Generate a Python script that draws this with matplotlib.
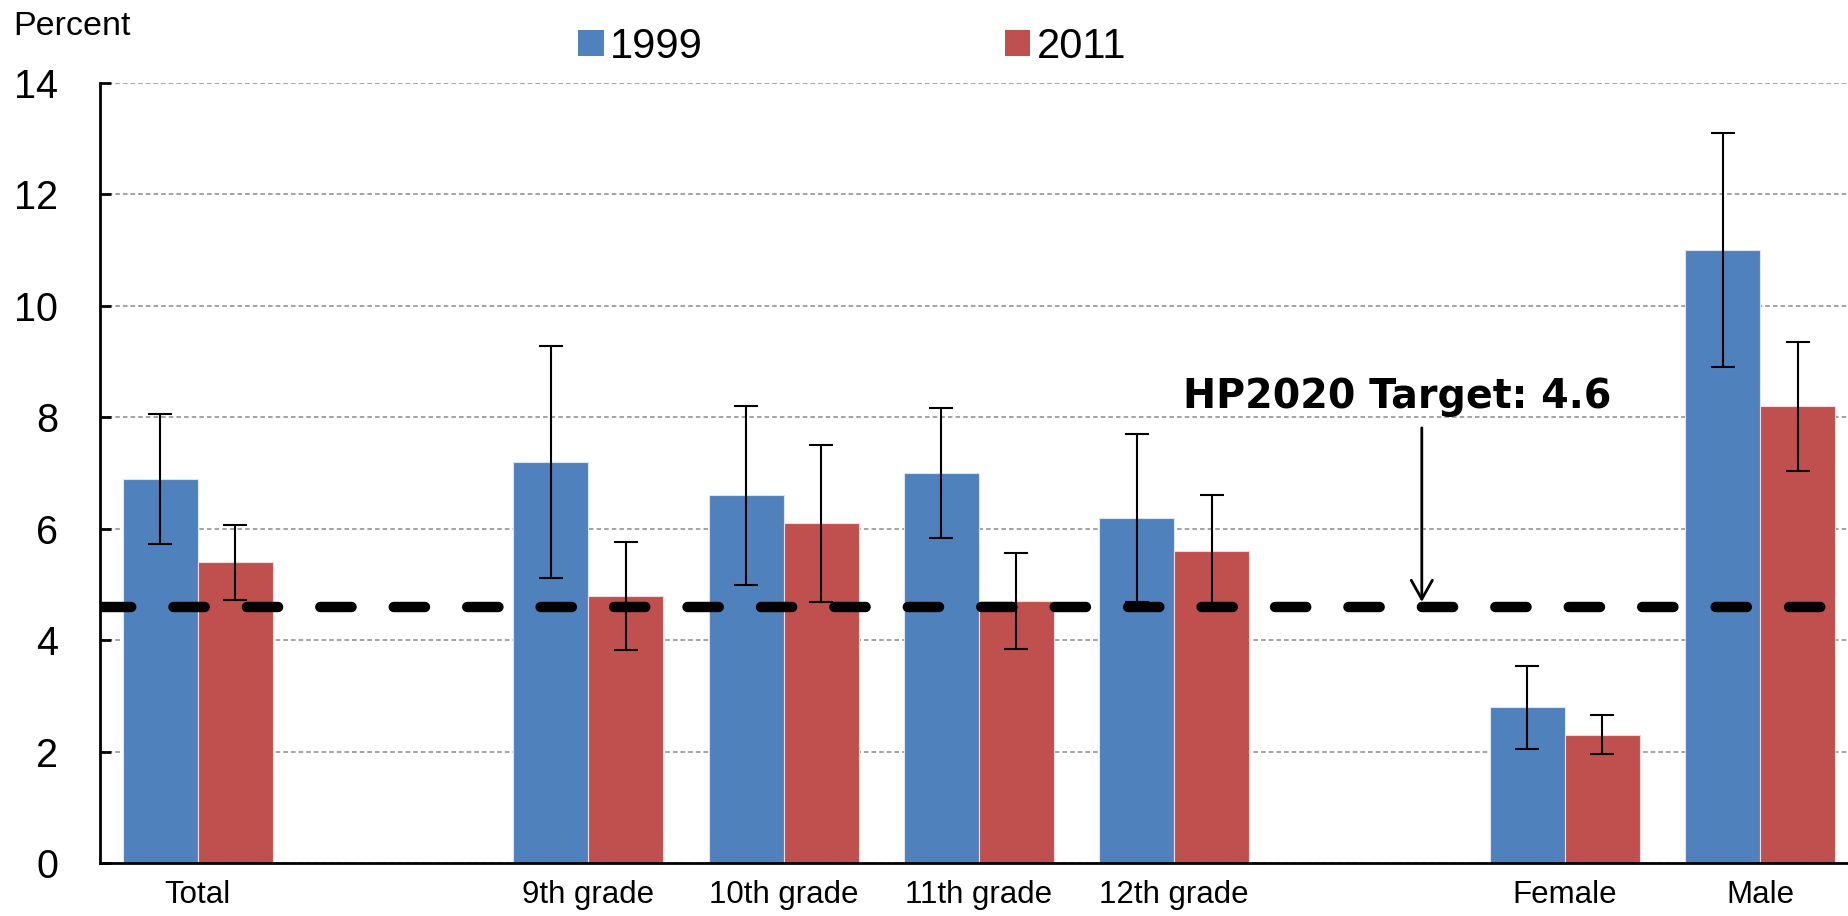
import matplotlib
matplotlib.use("Agg")
import matplotlib.pyplot as plt
import numpy as np

# ---- data ----
categories = ["Total", "", "9th grade", "10th grade", "11th grade", "12th grade", "", "Female", "Male"]
series_names = ["1999", "2011"]
vals_1999 = [6.9, np.nan, 7.2, 6.6, 7.0, 6.2, np.nan, 2.8, 11.0]
lo_1999 = [5.73, np.nan, 5.12, 4.99, 5.84, 4.69, np.nan, 2.05, 8.90]
hi_1999 = [8.06, np.nan, 9.28, 8.20, 8.16, 7.70, np.nan, 3.53, 13.11]
vals_2011 = [5.4, np.nan, 4.8, 6.1, 4.7, 5.6, np.nan, 2.3, 8.2]
lo_2011 = [4.72, np.nan, 3.83, 4.69, 3.85, 4.61, np.nan, 1.95, 7.04]
hi_2011 = [6.07, np.nan, 5.77, 7.51, 5.56, 6.60, np.nan, 2.66, 9.35]
target = 4.6
target_label = "HP2020 Target: 4.6"
yticks = [0, 2, 4, 6, 8, 10, 12, 14]

FONT = ["Liberation Sans", "DejaVu Sans"]
plt.rcParams["font.family"] = FONT

W, H = 1849, 916
fig = plt.figure(figsize=(W / 100, H / 100), dpi=100)
ax = fig.add_axes([100 / W, (H - 863) / H, 1749 / W, 780 / H])

x = np.arange(len(categories))
bw = 0.384
blue = "#4F81BD"
red = "#C0504D"

v1 = np.array(vals_1999, dtype=float)
v2 = np.array(vals_2011, dtype=float)
e1 = np.array([v1 - np.array(lo_1999), np.array(hi_1999) - v1])
e2 = np.array([v2 - np.array(lo_2011), np.array(hi_2011) - v2])

b1 = ax.bar(x - bw / 2, np.nan_to_num(v1), bw, color=blue, edgecolor="#dce6f2",
            linewidth=0.8, label=series_names[0], zorder=2)
b2 = ax.bar(x + bw / 2, np.nan_to_num(v2), bw, color=red, edgecolor="#f2dcdb",
            linewidth=0.8, label=series_names[1], zorder=2)

m1 = ~np.isnan(v1)
m2 = ~np.isnan(v2)
ax.errorbar((x - bw / 2)[m1], v1[m1], yerr=e1[:, m1], fmt="none", ecolor="black",
            elinewidth=1.5, capsize=8.5, capthick=1.5, zorder=3)
ax.errorbar((x + bw / 2)[m2], v2[m2], yerr=e2[:, m2], fmt="none", ecolor="black",
            elinewidth=1.5, capsize=8.5, capthick=1.5, zorder=3)

# target line
ax.axhline(target, color="black", linewidth=7.5, linestyle=(0, (3.0, 4.05)),
           dash_capstyle="round", zorder=4)

ax.annotate("", xy=(6.268, 4.685), xytext=(6.268, 7.81),
            arrowprops=dict(arrowstyle="->,head_length=0.68,head_width=0.38",
                            lw=2.0, color="black", shrinkA=0, shrinkB=0,
                            mutation_scale=20), zorder=5)
ax.text(6.144, 8.167, target_label, ha="center", va="baseline",
        fontsize=28.5, fontweight="bold", family=["DejaVu Sans"], zorder=5)

ax.set_xlim(-0.5, -0.5 + 1749 / 195.3)
ax.set_ylim(0, 14)
ax.set_yticks(yticks)
ax.set_yticklabels([str(t) for t in yticks])
ax.set_xticks(x)
ax.set_xticklabels(categories)

ax.yaxis.grid(True, color="#8c8c8c", linestyle=(0, (3, 2)), linewidth=1.1, zorder=0)
ax.set_axisbelow(True)

for s in ["top", "right"]:
    ax.spines[s].set_visible(False)
for s in ["left", "bottom"]:
    ax.spines[s].set_linewidth(2.0)
    ax.spines[s].set_color("black")
    ax.spines[s].set_zorder(6)

ax.tick_params(axis="y", direction="in", length=8, width=2, pad=30, labelsize=28.5)
ax.tick_params(axis="x", length=0, pad=12.5, labelsize=22.5)

fig.text(13 / W, 1 - 35 / H, "Percent", fontsize=24.5, ha="left", va="baseline")

leg = fig.legend(handles=[b1, b2], labels=series_names, loc="center left",
                 bbox_to_anchor=(578 / W, 1 - 47 / H), ncol=2, frameon=False,
                 fontsize=30, handlelength=0.62, handleheight=0.58,
                 handletextpad=0.15, columnspacing=7.24, borderpad=0,
                 borderaxespad=0)
for h in leg.legend_handles:
    h.set_edgecolor("none")

fig.savefig("out.png", dpi=100)
